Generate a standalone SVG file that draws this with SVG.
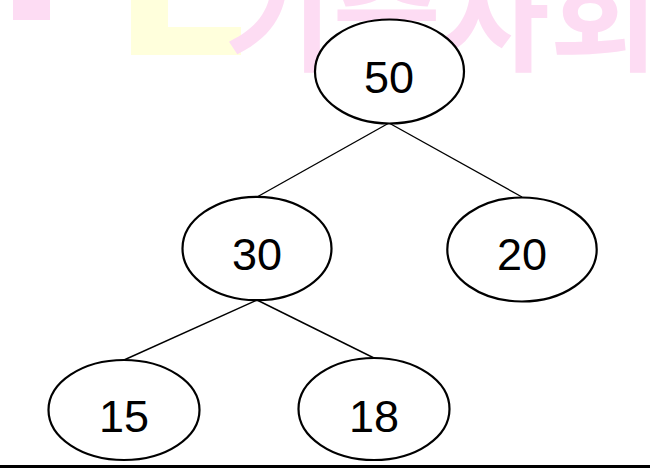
<svg xmlns="http://www.w3.org/2000/svg" width="650" height="472" viewBox="0 0 650 472">
<style>
.wm{fill:#fddcf3;font-family:"Noto Sans CJK KR",sans-serif;font-weight:700;font-size:118px}
.node ellipse{fill:#ffffff;stroke:#000000;stroke-width:2.2}
.node text{font-family:"Liberation Sans",Arial,sans-serif;font-size:45px;fill:#000000;text-anchor:middle}
.edges line{stroke:#000000;stroke-width:1.4}
</style>
<rect width="650" height="472" fill="#ffffff"/>
<g id="watermark">
<rect x="13" y="0" width="37" height="20" fill="#fddcf3"/>
<rect x="131" y="0" width="37" height="55" fill="#ffffdc"/>
<rect x="131" y="27" width="110" height="28" fill="#ffffdc"/>
<text class="wm" x="224" y="62">기출사회</text>
</g>
<g class="edges" id="connectors">
<line x1="389" y1="123" x2="257" y2="197"/>
<line x1="389" y1="123" x2="522" y2="197"/>
<line x1="257" y1="300" x2="124" y2="360"/>
<line x1="257" y1="300" x2="374" y2="358"/>
</g>
<g class="node" id="n50"><ellipse cx="389.5" cy="71.5" rx="74.5" ry="52"/><text x="389" y="93">50</text></g>
<g class="node" id="n30"><ellipse cx="257" cy="248.5" rx="74.5" ry="51.7"/><text x="257" y="270">30</text></g>
<g class="node" id="n20"><ellipse cx="522" cy="249.5" rx="74.7" ry="52"/><text x="522" y="270">20</text></g>
<g class="node" id="n15"><ellipse cx="124" cy="410" rx="75.5" ry="50"/><text x="124" y="432">15</text></g>
<g class="node" id="n18"><ellipse cx="374" cy="409" rx="75.5" ry="51"/><text x="374" y="432">18</text></g>
<line x1="0" y1="466.5" x2="650" y2="466.5" stroke="#000000" stroke-width="3"/>
</svg>
